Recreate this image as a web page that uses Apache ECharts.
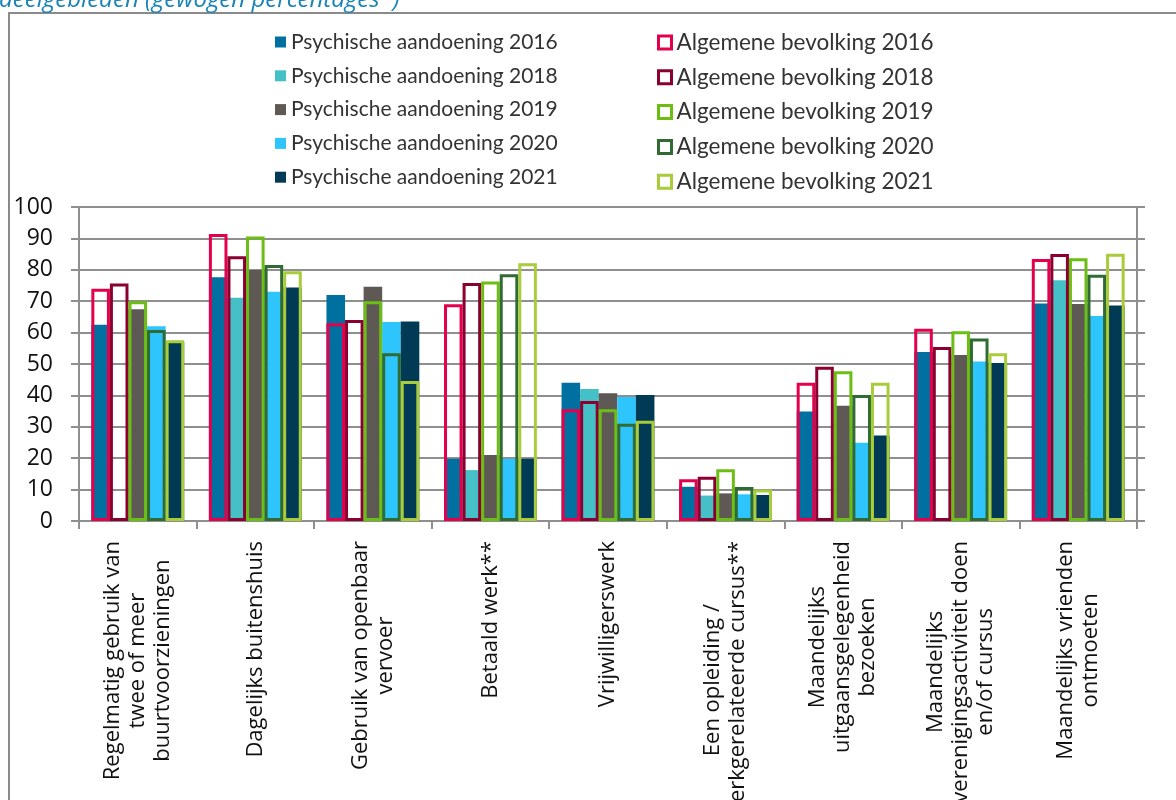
<!DOCTYPE html>
<html>
<head>
<meta charset="utf-8">
<style>
    html, body{ margin: 0; padding: 0; background: #fff;}
    #chart{ width: 1176px; height: 800px;}
</style>
<script src="https://cdn.jsdelivr.net/npm/echarts@6/dist/echarts.min.js"></script>
</head>
<body>
<div id="chart"></div>
<script>
    var categories = [
        'Regelmatig gebruik van\ntwee of meer\nbuurtvoorzieningen',
        'Dagelijks buitenshuis',
        'Gebruik van openbaar\nvervoer',
        'Betaald werk**',
        'Vrijwilligerswerk',
        'Een opleiding /\nwerkgerelateerde cursus**',
        'Maandelijks\nuitgaansgelegenheid\nbezoeken',
        'Maandelijks\nverenigingsactiviteit doen\nen/of cursus',
        'Maandelijks vrienden\nontmoeten'
    ];
    var yTicks = [0, 100, 10];

    // psychische aandoening (gevulde staven)
    var psych2016 = [62.5, 77.6, 72, 19.8, 44, 10.9, 34.9, 53.8, 69.3];
    var psych2018 = [null, 71.1, null, 16.2, 42, 8.1, null, null, 76.7];
    var psych2019 = [67.4, 79.9, 74.6, 21, 40.7, 8.8, 36.7, 52.9, 69.1];
    var psych2020 = [62, 73, 63.4, 19.8, 39.5, 8.5, 24.9, 50.8, 65.3];
    var psych2021 = [57, 74.4, 63.5, 19.8, 40.1, 8.3, 27.2, 50.3, 68.6];

    // algemene bevolking (open staven)
    var alg2016 = [74, 91.4, 63, 69, 35.6, 13.3, 44, 61.2, 83.4];
    var alg2018 = [75.6, 84.3, 64, 75.8, 38.2, 14.1, 49.1, 55.4, 85];
    var alg2019 = [70, 90.6, 70, 76.3, 35.6, 16.5, 47.7, 60.4, 83.7];
    var alg2020 = [60.8, 81.5, 53.4, 78.6, 31, 10.8, 40.1, 58.1, 78.4];
    var alg2021 = [57.6, 79.5, 44.6, 82.1, 31.9, 10, 44, 53.4, 85.1];

    var chart = echarts.init(document.getElementById('chart'));

    var labelFont = '"Open Sans", sans-serif';
    var gridColor = '#8f8f8f';

    function filled(name, data, color){
        return {
            name: name, type: 'bar', xAxisIndex: 0, data: data,
            barGap: 0, barCategoryGap: '21%',
            itemStyle: {color: color}
        };
    }
    function outline(name, data, color){
        return {
            name: name, type: 'bar', xAxisIndex: 1, data: data,
            barGap: 0, barCategoryGap: '21%', z: 3,
            itemStyle: {color: 'rgba(255,255,255,0)', borderColor: color, borderWidth: 3}
        };
    }

    chart.setOption({
        animation: false,
        backgroundColor: '#fff',
        graphic: [
            {type: 'rect', shape: {x: 9, y: 13, width: 1300, height: 900}, style: {fill: 'none', stroke: '#8a8a8a', lineWidth: 2}, z: -1},
            {type: 'text', x: -1, y: 12, style: {
                text: 'deelgebieden (gewogen percentages*)', fill: '#1b84b6',
                fontFamily: labelFont, fontStyle: 'italic', fontSize: 24, verticalAlign: 'bottom'
            }}
        ],
        legend: [{
            orient: 'vertical', left: 270, top: 26,
            icon: 'rect', itemWidth: 11, itemHeight: 11, itemGap: 11.8,
            textStyle: {fontFamily: 'Lato, sans-serif', fontSize: 21, color: '#333', lineHeight: 22},
            data: ['Psychische aandoening 2016', 'Psychische aandoening 2018', 'Psychische aandoening 2019', 'Psychische aandoening 2020', 'Psychische aandoening 2021']
        }, {
            orient: 'vertical', left: 652, top: 26,
            icon: 'rect', itemWidth: 13, itemHeight: 13, itemGap: 11.8,
            itemStyle: {borderWidth: 3},
            textStyle: {fontFamily: 'Lato, sans-serif', fontSize: 22.5, color: '#333', lineHeight: 22},
            data: ['Algemene bevolking 2016', 'Algemene bevolking 2018', 'Algemene bevolking 2019', 'Algemene bevolking 2020', 'Algemene bevolking 2021']
        }],
        grid: {left: 79, right: 39, top: 207, bottom: 279, containLabel: false, outerBoundsMode: 'none'},
        xAxis: [{
            type: 'category', data: categories, position: 'bottom',
            axisLine: {lineStyle: {color: gridColor, width: 2}},
            axisTick: {show: true, length: 8, lineStyle: {color: gridColor, width: 2}},
            axisLabel: {
                interval: 0, rotate: 90, margin: 20, color: '#111',
                formatter: function(v){ return '{c|' + v.split('\n').join('}\n{c|') + '}'; },
                rich: {c: {align: 'center', fontFamily: labelFont, fontSize: 22, lineHeight: 25, color: '#111'}}
            }
        }, {
            type: 'category', data: categories, show: false
        }],
        yAxis: [{
            type: 'value', min: yTicks[0], max: yTicks[1], interval: yTicks[2],
            axisLine: {show: true, lineStyle: {color: gridColor, width: 2}},
            axisTick: {show: true, length: 8, lineStyle: {color: gridColor, width: 2}},
            axisLabel: {margin: 26, fontFamily: labelFont, fontSize: 23, color: '#111'},
            splitLine: {lineStyle: {color: gridColor, width: 2}}
        }, {
            type: 'value', position: 'right', min: yTicks[0], max: yTicks[1], interval: yTicks[2],
            axisLine: {show: true, lineStyle: {color: gridColor, width: 2}},
            axisTick: {show: true, length: 8, lineStyle: {color: gridColor, width: 2}},
            axisLabel: {show: false},
            splitLine: {show: false}
        }],
        series: [
            filled('Psychische aandoening 2016', psych2016, '#0070a0'),
            filled('Psychische aandoening 2018', psych2018, '#45c0c6'),
            filled('Psychische aandoening 2019', psych2019, '#5e5955'),
            filled('Psychische aandoening 2020', psych2020, '#2ec5fd'),
            filled('Psychische aandoening 2021', psych2021, '#003a55'),
            outline('Algemene bevolking 2016', alg2016, '#e5004e'),
            outline('Algemene bevolking 2018', alg2018, '#8a0030'),
            outline('Algemene bevolking 2019', alg2019, '#6cbe14'),
            outline('Algemene bevolking 2020', alg2020, '#2f6b32'),
            outline('Algemene bevolking 2021', alg2021, '#a8cc3a')
        ]
    });
</script>
</body>
</html>
